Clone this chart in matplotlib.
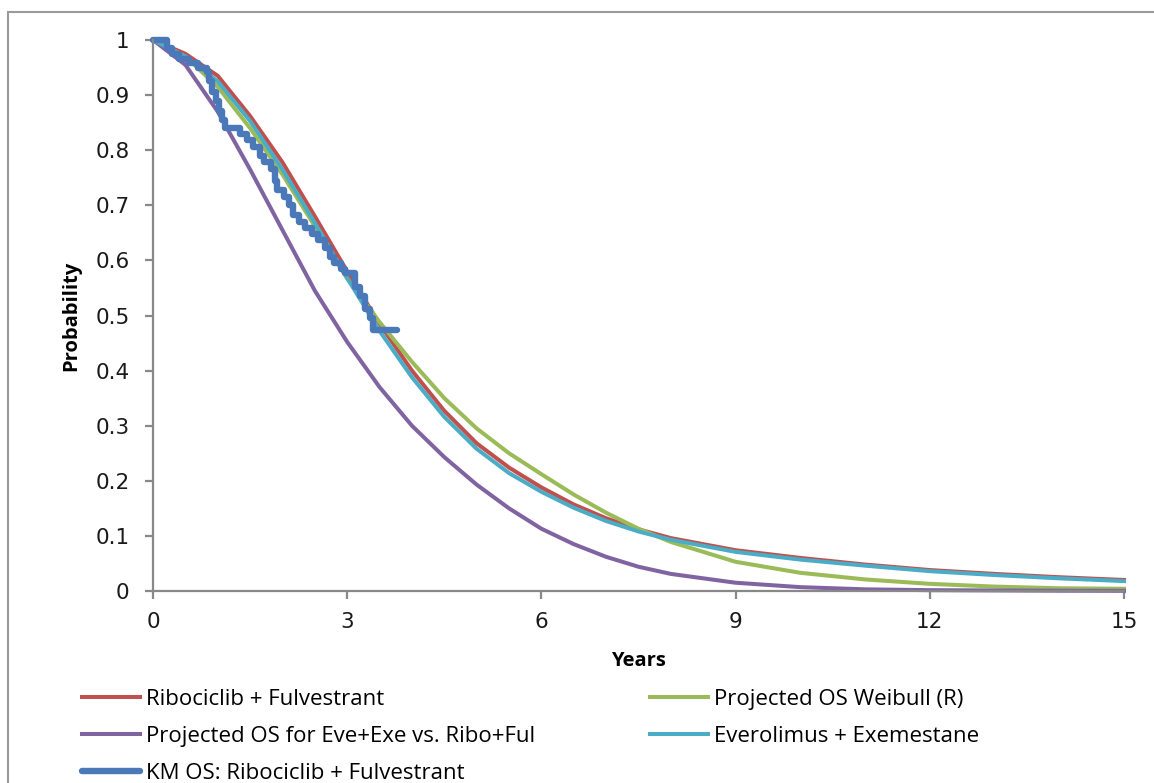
import matplotlib
matplotlib.use('Agg')
import matplotlib.pyplot as plt
from matplotlib.patches import Rectangle

## Data
years = [0, 0.5, 1, 1.5, 2, 2.5, 3, 3.5, 4, 4.5, 5, 5.5, 6, 6.5, 7, 7.5, 8,
         9, 10, 11, 12, 13, 14, 15]

ribo_ful = [1.0, 0.975, 0.935, 0.862, 0.778, 0.68, 0.58, 0.485, 0.40, 0.327, 0.268, 0.224,
            0.188, 0.157, 0.132, 0.112, 0.096, 0.074, 0.060, 0.048, 0.038, 0.031, 0.025, 0.020]

weibull_r = [1.0, 0.97, 0.915, 0.84, 0.756, 0.662, 0.567, 0.488, 0.416, 0.35, 0.295, 0.25,
             0.212, 0.175, 0.142, 0.113, 0.089, 0.053, 0.033, 0.021, 0.013, 0.008, 0.005, 0.004]

eve_exe_proj = [1.0, 0.955, 0.87, 0.765, 0.655, 0.545, 0.452, 0.37, 0.30, 0.243, 0.193, 0.150,
                0.113, 0.085, 0.062, 0.044, 0.031, 0.015, 0.007, 0.003, 0.0015, 0.001, 0.0005, 0.0003]

eve_exe = [1.0, 0.97, 0.925, 0.853, 0.765, 0.668, 0.568, 0.472, 0.388, 0.316, 0.258, 0.214,
           0.18, 0.151, 0.127, 0.108, 0.093, 0.071, 0.057, 0.046, 0.036, 0.029, 0.023, 0.018]

# KM OS: Ribociclib + Fulvestrant (step points)
km_years = [0, 0.22, 0.30, 0.40, 0.55, 0.70, 0.83, 0.87, 0.91, 0.97, 1.02, 1.07, 1.11,
            1.35, 1.45, 1.55, 1.65, 1.72, 1.82, 1.88, 1.92, 2.02, 2.10, 2.17, 2.25, 2.35,
            2.45, 2.55, 2.65, 2.73, 2.80, 2.90, 2.97, 3.12, 3.20, 3.28, 3.35, 3.40, 3.77]
km_surv = [1.0, 0.985, 0.975, 0.965, 0.958, 0.950, 0.942, 0.925, 0.905, 0.89, 0.872, 0.855, 0.840,
           0.830, 0.818, 0.805, 0.79, 0.778, 0.765, 0.745, 0.728, 0.715, 0.700, 0.683, 0.670, 0.658,
           0.648, 0.637, 0.622, 0.606, 0.595, 0.585, 0.578, 0.552, 0.535, 0.512, 0.495, 0.474, 0.474]

x_ticks = [0, 3, 6, 9, 12, 15]
y_ticks = [0, 0.1, 0.2, 0.3, 0.4, 0.5, 0.6, 0.7, 0.8, 0.9, 1]
y_tick_labels = ['0', '0.1', '0.2', '0.3', '0.4', '0.5', '0.6', '0.7', '0.8', '0.9', '1']

## Figure
axis_grey = '#888888'
fig = plt.figure(figsize=(11.54, 7.83), dpi=100)
ax = fig.add_axes([153/1154, 1 - 591/783, 971/1154, 551/783])

# outer chart frame (cut on right/bottom like the reference)
fig.patches.append(Rectangle((8/1154, -0.2), 1.2, 1.2 - 12/783, transform=fig.transFigure,
                             fill=False, edgecolor='#9a9a9a', linewidth=1.5))

lw = 2.9
l_red, = ax.plot(years, ribo_ful, color='#C0504D', lw=lw, label='Ribociclib + Fulvestrant')
l_green, = ax.plot(years, weibull_r, color='#9BBB59', lw=lw, label='Projected OS Weibull (R)')
l_purple, = ax.plot(years, eve_exe_proj, color='#8064A2', lw=lw,
                    label='Projected OS for Eve+Exe vs. Ribo+Ful')
l_cyan, = ax.plot(years, eve_exe, color='#4BACC6', lw=lw, label='Everolimus + Exemestane')
l_km, = ax.plot(km_years, km_surv, color='#4A78B8', lw=4.6, drawstyle='steps-post',
                solid_joinstyle='round', solid_capstyle='round',
                label='KM OS: Ribociclib + Fulvestrant')

ax.set_xlim(0, 15)
ax.set_ylim(0, 1)
ax.set_xticks(x_ticks)
ax.set_yticks(y_ticks)
ax.set_yticklabels(y_tick_labels)

for side in ['top', 'right']:
    ax.spines[side].set_visible(False)
for side in ['left', 'bottom']:
    ax.spines[side].set_color(axis_grey)
    ax.spines[side].set_linewidth(1.6)
ax.tick_params(axis='both', direction='out', length=6, width=1.6, color=axis_grey,
               labelsize=15.5, labelcolor='#1a1a1a')
ax.tick_params(axis='y', pad=11)
ax.tick_params(axis='x', pad=9)
for ln in [l_red, l_green, l_purple, l_cyan, l_km]:
    ln.set_clip_on(False)

ax.set_xlabel('Years', fontsize=14.5, fontweight='bold', family='Open Sans', labelpad=14)
ax.set_ylabel('Probability', fontsize=14.5, fontweight='bold', family='Open Sans', labelpad=10)

# Excel legend fills row-wise; matplotlib fills column-wise
handles = [l_red, l_purple, l_km, l_green, l_cyan]
fig.legend(handles=handles, labels=[h.get_label() for h in handles], ncol=2,
           loc='upper left', bbox_to_anchor=(82/1154, 1 - 689/783), frameon=False,
           prop={'family': 'Open Sans', 'size': 16}, handlelength=2.6, handletextpad=0.27,
           columnspacing=5.2, labelspacing=0.72, borderpad=0, borderaxespad=0)

fig.savefig('out.png', dpi=100)
